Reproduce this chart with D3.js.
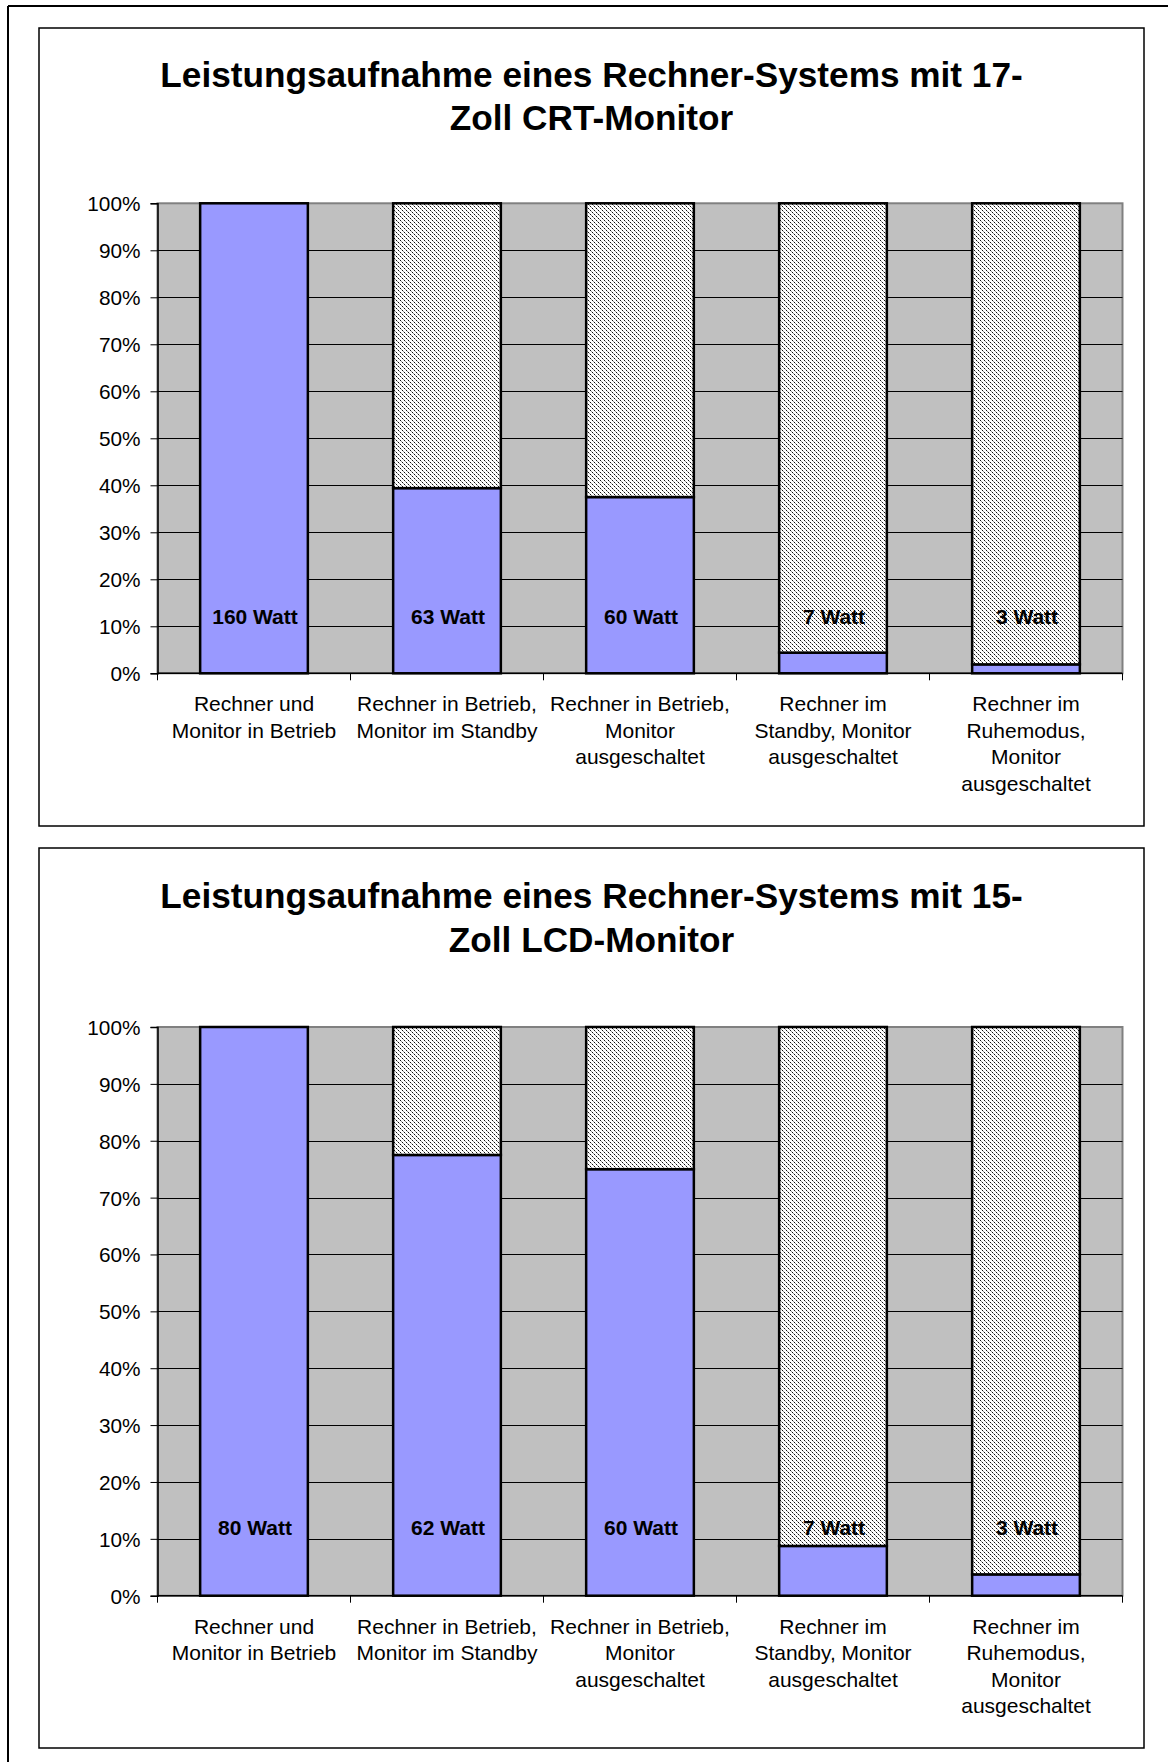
<!DOCTYPE html>
<html>
<head>
<meta charset="utf-8">
<script src="https://cdn.jsdelivr.net/npm/d3@7"></script>
<style>
  html, body { margin: 0; padding: 0; background: #fff; }
  svg { display: block; }
  text { font-family: "Liberation Sans", Arial, Helvetica, sans-serif; fill: #000; }
</style>
</head>
<body>
<svg id="chart" width="1168" height="1762"></svg>
<script>
// ---------------- DATA ----------------
const categories = [
  ["Rechner und", "Monitor in Betrieb"],
  ["Rechner in Betrieb,", "Monitor im Standby"],
  ["Rechner in Betrieb,", "Monitor", "ausgeschaltet"],
  ["Rechner im", "Standby, Monitor", "ausgeschaltet"],
  ["Rechner im", "Ruhemodus,", "Monitor", "ausgeschaltet"]
];
const yTicks = [0, 10, 20, 30, 40, 50, 60, 70, 80, 90, 100];

const crtTitle = ["Leistungsaufnahme eines Rechner-Systems mit 17-", "Zoll CRT-Monitor"];
const crtLabels = ["160 Watt", "63 Watt", "60 Watt", "7 Watt", "3 Watt"];
const crtComputer = [100, 39.4, 37.5, 4.4, 1.9];   // % (blue)
const crtMonitor  = [0, 60.6, 62.5, 95.6, 98.1];   // % (hatched)

const lcdTitle = ["Leistungsaufnahme eines Rechner-Systems mit 15-", "Zoll LCD-Monitor"];
const lcdLabels = ["80 Watt", "62 Watt", "60 Watt", "7 Watt", "3 Watt"];
const lcdComputer = [100, 77.5, 75, 8.75, 3.75];
const lcdMonitor  = [0, 22.5, 25, 91.25, 96.25];

// ---------------- DRAW ----------------
const svg = d3.select("#chart");
const defs = svg.append("defs");
const pat = defs.append("pattern")
  .attr("id", "hatch").attr("patternUnits", "userSpaceOnUse")
  .attr("width", 4).attr("height", 4);
pat.append("rect").attr("width", 4).attr("height", 4).attr("fill", "#ffffff");
[[0,0,"#111"],[1,1,"#999"],[2,2,"#111"],[3,3,"#999"]].forEach(([px,py,c]) => {
  pat.append("rect").attr("x", px).attr("y", py).attr("width", 1).attr("height", 1).attr("fill", c);
});

// outer page border
svg.append("line").attr("x1", 8).attr("x2", 8).attr("y1", 6).attr("y2", 1762)
  .attr("stroke", "#000").attr("stroke-width", 2);
svg.append("line").attr("x1", 8).attr("x2", 1168).attr("y1", 6).attr("y2", 6)
  .attr("stroke", "#000").attr("stroke-width", 2);

function drawChart(cfg, title, labels, computer, monitor) {
  const g = svg.append("g");
  g.append("rect").attr("x", cfg.box.x).attr("y", cfg.box.y)
    .attr("width", cfg.box.w).attr("height", cfg.box.h)
    .attr("fill", "#fff").attr("stroke", "#000").attr("stroke-width", 1.5);

  title.forEach((t, i) => {
    g.append("text").attr("x", cfg.box.x + cfg.box.w / 2).attr("y", cfg.titleY[i])
      .attr("text-anchor", "middle").attr("font-size", 35.2).attr("font-weight", "bold")
      .text(t);
  });

  const x = d3.scaleBand().domain(d3.range(categories.length))
    .range([cfg.left, cfg.right]).paddingInner(0.442).paddingOuter(0.221);
  const y = d3.scaleLinear().domain([0, 100]).range([cfg.bottom, cfg.top]);

  // plot area
  g.append("rect").attr("x", cfg.left).attr("y", cfg.top)
    .attr("width", cfg.right - cfg.left).attr("height", cfg.bottom - cfg.top)
    .attr("fill", "#c0c0c0").attr("stroke", "#808080").attr("stroke-width", 2);

  // gridlines
  g.selectAll("line.grid").data(yTicks.filter(d => d > 0 && d < 100)).enter().append("line")
    .attr("class", "grid")
    .attr("x1", cfg.left).attr("x2", cfg.right)
    .attr("y1", d => Math.round(y(d)) + 0.5).attr("y2", d => Math.round(y(d)) + 0.5)
    .attr("stroke", "#000").attr("stroke-width", 1);

  const rows = computer.map((c, i) => ({i, c, m: monitor[i]}));

  // bars: computer (blue) at bottom
  g.selectAll("rect.comp").data(rows).enter().append("rect")
    .attr("class", "comp")
    .attr("x", d => x(d.i)).attr("width", x.bandwidth())
    .attr("y", d => y(d.c)).attr("height", d => y(0) - y(d.c))
    .attr("fill", "#9999ff").attr("stroke", "#000").attr("stroke-width", 2.5);
  // monitor (hatched) stacked on top
  g.selectAll("rect.mon").data(rows.filter(d => d.m > 0)).enter().append("rect")
    .attr("class", "mon")
    .attr("x", d => x(d.i)).attr("width", x.bandwidth())
    .attr("y", d => y(d.c + d.m)).attr("height", d => y(d.c) - y(d.c + d.m))
    .attr("fill", "url(#hatch)").attr("stroke", "#000").attr("stroke-width", 2.5);

  // y axis
  const yAxis = d3.axisLeft(y).tickValues(yTicks).tickSize(7).tickPadding(10)
    .tickFormat(d => d + "%");
  const ya = g.append("g").attr("transform", `translate(${cfg.left},0)`).call(yAxis);
  ya.select(".domain").attr("stroke", "#000").attr("stroke-width", 1.5);
  ya.selectAll(".tick line").attr("stroke", "#000");
  ya.selectAll(".tick text").attr("font-size", 20.8).attr("font-family", "Liberation Sans, Arial, sans-serif")
    .attr("fill", "#000").attr("dy", "0.36em");

  // x axis line and ticks at category boundaries
  g.append("line").attr("x1", cfg.left).attr("x2", cfg.right)
    .attr("y1", y(0)).attr("y2", y(0)).attr("stroke", "#000").attr("stroke-width", 1.5);
  const bounds = d3.range(categories.length + 1).map(i => cfg.left + i * x.step());
  g.selectAll("line.xt").data(bounds).enter().append("line")
    .attr("class", "xt")
    .attr("x1", d => d).attr("x2", d => d).attr("y1", y(0)).attr("y2", y(0) + 7)
    .attr("stroke", "#000").attr("stroke-width", 1);

  // category labels
  categories.forEach((lines, i) => {
    const cx = x(i) + x.bandwidth() / 2;
    const t = g.append("text").attr("text-anchor", "middle").attr("font-size", 21);
    lines.forEach((ln, j) => {
      t.append("tspan").attr("x", cx).attr("y", y(0) + 38 + j * 26.5).text(ln);
    });
  });

  // value labels
  labels.forEach((lb, i) => {
    g.append("text").attr("x", x(i) + x.bandwidth() / 2 + 1).attr("y", y(11.9) + 7)
      .attr("text-anchor", "middle").attr("font-size", 21).attr("font-weight", "bold").text(lb);
  });
}

drawChart({
  box: {x: 39, y: 28, w: 1105, h: 798},
  titleY: [86.5, 130.3],
  left: 157.5, right: 1122.5, top: 203.3, bottom: 673.3
}, crtTitle, crtLabels, crtComputer, crtMonitor);

drawChart({
  box: {x: 39, y: 848, w: 1105, h: 900},
  titleY: [908.3, 952.2],
  left: 157.5, right: 1122.5, top: 1027, bottom: 1595.7
}, lcdTitle, lcdLabels, lcdComputer, lcdMonitor);
</script>
</body>
</html>
